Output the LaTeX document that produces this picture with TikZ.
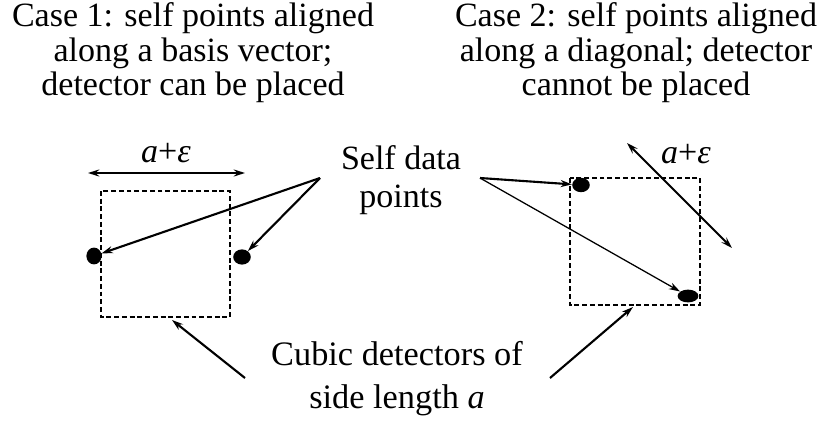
\documentclass[tikz,border=0pt]{standalone}
\usepackage{fontspec}
\setmainfont{Liberation Serif}
\usetikzlibrary{arrows.meta,shapes.geometric}

\tikzset{
  caption/.style={font=\fontsize{24.2}{24.8}\selectfont, align=center, inner sep=0pt},
  detector/.style={line width=1.3pt, dash pattern=on 3.5pt off 2pt},
  selfpt/.style={ellipse, fill=black, inner sep=0pt},
  pointer/.style={line width=1.5pt, -{Stealth[length=8pt,width=5pt]}},
  span/.style={line width=1.5pt, {Stealth[length=8pt,width=5pt]}-{Stealth[length=8pt,width=5pt]}}
}

\begin{document}
\begin{tikzpicture}[x=0.025cm,y=-0.025cm]
\useasboundingbox (0,0) rectangle (823,421);

% headings
\node[caption, anchor=north] (case1) at (193,2) {Case 1: self points aligned\\along a basis vector;\\detector can be placed};
\node[caption, anchor=north] (case2) at (636,2) {Case 2: self points aligned\\along a diagonal; detector\\cannot be placed};

% case 1: detector along a basis vector
\draw[detector] (101,191) rectangle (230,317);
\draw[span] (88,173) -- (245,173);
\node[caption, anchor=base] (eps1) at (166,162) {\textit{a}+\textit{ε}};
\node[selfpt, minimum width=0.38cm, minimum height=0.42cm] (p1) at (94,256) {};
\node[selfpt, minimum width=0.44cm, minimum height=0.38cm] (p2) at (242,257) {};

% case 2: detector along a diagonal
\draw[detector] (570,178) rectangle (700,305);
\draw[span] (627,143) -- (732,248);
\node[caption, anchor=base] (eps2) at (686,163) {\textit{a}+\textit{ε}};
\node[selfpt, minimum width=0.44cm, minimum height=0.36cm] (p3) at (581,185) {};
\node[selfpt, minimum width=0.52cm, minimum height=0.32cm] (p4) at (688,296) {};

% self data points
\node[caption, anchor=north, font=\fontsize{24.2}{27}\selectfont] (self) at (401,145) {Self data\\points};
\coordinate (selfL) at (320,178);
\coordinate (selfR) at (480,178);
\draw[pointer] (selfL) -- (p1);
\draw[pointer] (selfL) -- (p2);
\draw[pointer] (selfR) -- (p3);
\draw[pointer, line width=0.9pt] (selfR) -- (p4);

% cubic detectors
\node[caption, anchor=north, font=\fontsize{24.4}{30.5}\selectfont] (cubic) at (397,341) {Cubic detectors of\\side length \textit{a}};
\coordinate (cubicL) at (245,378);
\coordinate (cubicR) at (550,378);
\coordinate (box1) at (172,320);
\coordinate (box2) at (633,307);
\draw[pointer] (cubicL) -- (box1);
\draw[pointer] (cubicR) -- (box2);
\end{tikzpicture}
\end{document}
